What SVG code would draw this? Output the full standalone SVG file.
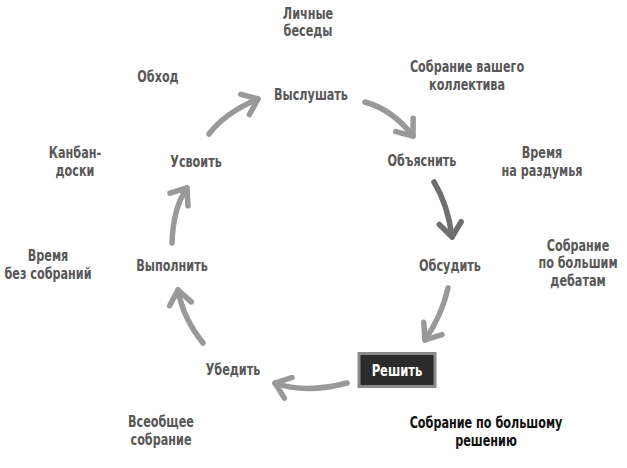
<svg xmlns="http://www.w3.org/2000/svg" width="627" height="468" viewBox="0 0 627 468">
<style>
  text { font-family: "Liberation Sans Narrow", "DejaVu Sans Condensed", "Liberation Sans", sans-serif; font-weight: bold; font-size: 16px; text-anchor: middle; fill: #585858; }
  .hi { fill: #111; }
  .inv { fill: #fff; font-size: 16.5px; }
  .arr { fill: none; stroke: #999; stroke-width: 5.5; stroke-linecap: round; stroke-linejoin: round; }
  .dark { stroke: #6f6f6f; }
</style>
<defs>
  <marker id="hg" markerUnits="userSpaceOnUse" viewBox="-20 -20 40 40" markerWidth="40" markerHeight="40" refX="0" refY="0" orient="auto" overflow="visible">
    <path d="M-14,-11 L0,0 L-14,11" fill="none" stroke="#999" stroke-width="5.5" stroke-linecap="round" stroke-linejoin="round"/>
  </marker>
  <marker id="hd" markerUnits="userSpaceOnUse" viewBox="-20 -20 40 40" markerWidth="40" markerHeight="40" refX="0" refY="0" orient="auto" overflow="visible">
    <path d="M-14,-11 L0,0 L-14,11" fill="none" stroke="#6f6f6f" stroke-width="5.5" stroke-linecap="round" stroke-linejoin="round"/>
  </marker>
</defs>
<rect width="627" height="468" fill="#fff"/>

<g id="connectors">
  <path class="arr" d="M209,134 Q225,113 258,99" marker-end="url(#hg)"/>
  <path class="arr" d="M365,102 Q393,110 413,136" marker-end="url(#hg)"/>
  <path class="arr dark" d="M434,182 Q448,205 452,237" marker-end="url(#hd)"/>
  <path class="arr" d="M448,288 Q442,315 425,340" marker-end="url(#hg)"/>
  <path class="arr" d="M347,383 Q305,394 275,383" marker-end="url(#hg)"/>
  <path class="arr" d="M203,343 Q183,318 178,290" marker-end="url(#hg)"/>
  <path class="arr" d="M172,243 Q173,208 187,188" marker-end="url(#hg)"/>
</g>

<g id="node-vyslushat" transform="translate(311 0) scale(0.78 1)"><text x="0" y="100">Выслушать</text></g>
<g id="node-obyasnit" transform="translate(422 0) scale(0.78 1)"><text x="0" y="166">Объяснить</text></g>
<g id="node-obsudit" transform="translate(450 0) scale(0.78 1)"><text x="0" y="271">Обсудить</text></g>
<g id="node-reshit">
  <rect x="357.5" y="352" width="79" height="36" fill="#8a8a8a"/>
  <rect x="360.5" y="355" width="73" height="30" fill="#2b2b2b"/>
  <g transform="translate(397 0) scale(0.78 1)"><text class="inv" x="0" y="376">Решить</text></g>
</g>
<g id="node-ubedit" transform="translate(233 0) scale(0.78 1)"><text x="0" y="375">Убедить</text></g>
<g id="node-vypolnit" transform="translate(172 0) scale(0.78 1)"><text x="0" y="271">Выполнить</text></g>
<g id="node-usvoit" transform="translate(196 0) scale(0.78 1)"><text x="0" y="167">Усвоить</text></g>

<g id="label-lichnye" transform="translate(308 0) scale(0.78 1)"><text x="0" y="19">Личные</text><text x="0" y="36">беседы</text></g>
<g id="label-kollektiv" transform="translate(467 0) scale(0.78 1)"><text x="0" y="72">Собрание вашего</text><text x="0" y="90">коллектива</text></g>
<g id="label-obhod" transform="translate(158 0) scale(0.78 1)"><text x="0" y="82">Обход</text></g>
<g id="label-vremya-razd" transform="translate(542 0) scale(0.78 1)"><text x="0" y="158">Время</text><text x="0" y="176">на раздумья</text></g>
<g id="label-kanban" transform="translate(75 0) scale(0.78 1)"><text x="0" y="158">Канбан-</text><text x="0" y="176">доски</text></g>
<g id="label-debaty" transform="translate(578 0) scale(0.78 1)"><text x="0" y="251">Собрание</text><text x="0" y="268">по большим</text><text x="0" y="286">дебатам</text></g>
<g id="label-bez-sobr" transform="translate(48 0) scale(0.78 1)"><text x="0" y="261">Время</text><text x="0" y="279">без собраний</text></g>
<g id="label-vseobshchee" transform="translate(161 0) scale(0.78 1)"><text x="0" y="427">Всеобщее</text><text x="0" y="445">собрание</text></g>
<g id="label-reshenie" transform="translate(486 0) scale(0.78 1)"><text class="hi" x="0" y="428">Собрание по большому</text><text class="hi" x="0" y="446">решению</text></g>
</svg>
